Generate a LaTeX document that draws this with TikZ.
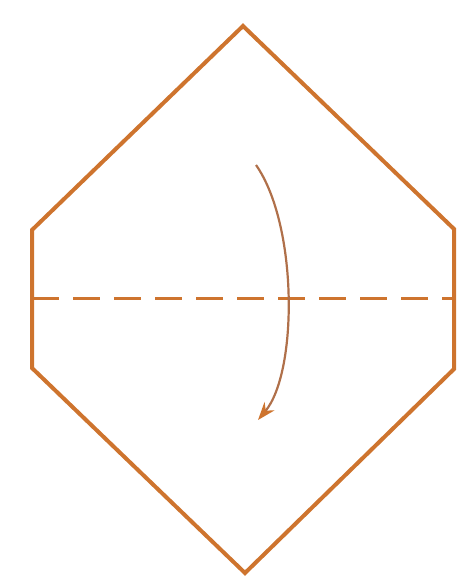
\documentclass[tikz,border=0pt]{standalone}
\usetikzlibrary{arrows.meta}
\definecolor{fold}{RGB}{206,116,46}
\definecolor{swing}{RGB}{176,112,74}
\begin{document}
\begin{tikzpicture}[x=1pt,y=-1pt]
\useasboundingbox (0,0) rectangle (460,585);
\draw[fold,line width=4pt,line join=miter] (243,26) -- (454,229) -- (454,369) -- (245,573) -- (32,368) -- (32,230) -- cycle;
\draw[fold,line width=3pt,dash pattern=on 27pt off 14pt] (32,298) -- (454,298);
\draw[swing,line width=2.2pt,-{Stealth[length=18pt,width=13pt,color=fold]}] (256,165) .. controls (298,225) and (298,372) .. (258,420);
\end{tikzpicture}
\end{document}
